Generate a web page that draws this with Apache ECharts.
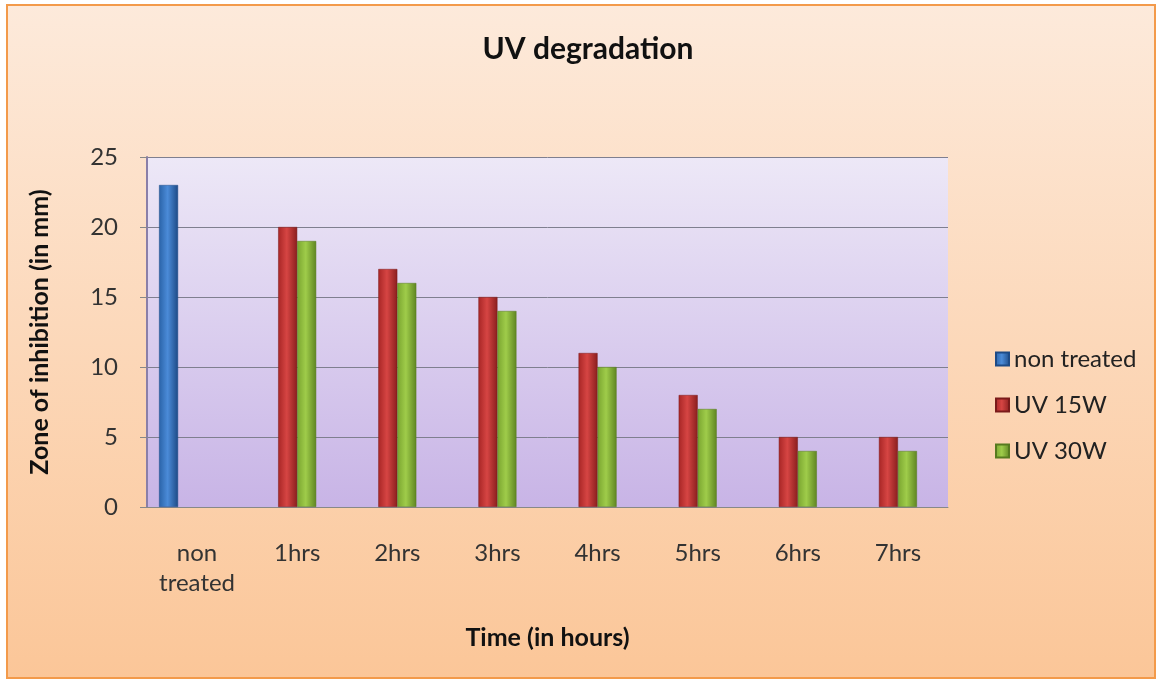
<!DOCTYPE html>
<html><head><meta charset="utf-8">
<script src="https://cdn.jsdelivr.net/npm/echarts@6/dist/echarts.min.js"></script>
<style>html,body{margin:0;padding:0;background:#fff}#c{width:1161px;height:683px}</style>
</head><body><div id="c"></div>
<script>
const categories = ['non\ntreated','1hrs','2hrs','3hrs','4hrs','5hrs','6hrs','7hrs'];
const nonTreated = [23, null, null, null, null, null, null, null];
const uv15W = [null, 20, 17, 15, 11, 8, 5, 5];
const uv30W = [null, 19, 16, 14, 10, 7, 4, 4];
const yTicks = [0, 5, 10, 15, 20, 25];

const FONT = 'Lato, "Open Sans", sans-serif';
function barGrad(l, m, r) {
  return new echarts.graphic.LinearGradient(0, 0, 1, 0, [
    {offset: 0, color: l}, {offset: 0.45, color: m}, {offset: 1, color: r}
  ]);
}
const chart = echarts.init(document.getElementById('c'));
chart.setOption({
  backgroundColor: '#ffffff',
  animation: false,
  graphic: [{
    type: 'rect', z: -10, silent: true,
    shape: {x: 7, y: 5, width: 1148, height: 673},
    style: {
      fill: new echarts.graphic.LinearGradient(0, 0, 0, 1, [
        {offset: 0, color: '#fdeadb'}, {offset: 1, color: '#fbc698'}
      ]),
      stroke: '#f39a4a', lineWidth: 2
    }
  }],
  title: {
    text: 'UV degradation', left: 583, top: 29, textAlign: 'center',
    textStyle: {fontFamily: FONT, fontSize: 30, fontWeight: 'bold', color: '#111'}
  },
  legend: {
    orient: 'vertical', left: 990, top: 342, itemGap: 22,
    itemWidth: 13, itemHeight: 13, icon: 'rect',
    data: ['non treated', 'UV 15W', 'UV 30W'],
    textStyle: {fontFamily: FONT, fontSize: 24, color: '#222'}
  },
  grid: {
    left: 147, right: 213, top: 157, bottom: 176, show: true,
    borderWidth: 0,
    backgroundColor: new echarts.graphic.LinearGradient(0, 0, 0, 1, [
      {offset: 0, color: '#ede8f7'}, {offset: 1, color: '#c8b4e6'}
    ])
  },
  xAxis: {
    type: 'category', data: categories,
    name: 'Time (in hours)', nameLocation: 'middle', nameGap: 118,
    nameTextStyle: {fontFamily: FONT, fontSize: 25, fontWeight: 'bold', color: '#111'},
    axisLine: {show: true, lineStyle: {color: '#888', width: 1}},
    axisTick: {show: false},
    axisLabel: {fontFamily: FONT, fontSize: 24, color: '#333', margin: 31, lineHeight: 30}
  },
  yAxis: {
    type: 'value', min: 0, max: 25, interval: 5,
    name: 'Zone of inhibition (in mm)', nameLocation: 'middle', nameGap: 95,
    nameTextStyle: {fontFamily: FONT, fontSize: 25, fontWeight: 'bold', color: '#111'},
    axisLine: {show: true, lineStyle: {color: '#8a7fa8', width: 2}},
    axisTick: {show: true, length: 7, inside: false, lineStyle: {color: '#888'}},
    axisLabel: {fontFamily: FONT, fontSize: 24, color: '#333', margin: 29,
      formatter: v => yTicks.includes(v) ? String(v) : ''},
    splitLine: {show: true, lineStyle: {color: '#7f7f8f', width: 1}}
  },
  series: [
    {name: 'non treated', type: 'bar', data: nonTreated, barWidth: 19, barGap: '0%', barCategoryGap: '24%',
      itemStyle: {color: barGrad('#2a63a8', '#4b8bd8', '#1d4a86'), borderColor: '#1d4a86', borderWidth: 0.5}},
    {name: 'UV 15W', type: 'bar', data: uv15W, barWidth: 19, barGap: '0%',
      itemStyle: {color: barGrad('#a82626', '#d64543', '#8a1e1e'), borderColor: '#7a1a1a', borderWidth: 0.5}},
    {name: 'UV 30W', type: 'bar', data: uv30W, barWidth: 19, barGap: '0%',
      itemStyle: {color: barGrad('#7aa530', '#9fcc4a', '#5f8522'), borderColor: '#577a1f', borderWidth: 0.5}},
    {name: 'spacer', type: 'bar', data: [], barWidth: 19, barGap: '0%'}
  ]
});
</script></body></html>
